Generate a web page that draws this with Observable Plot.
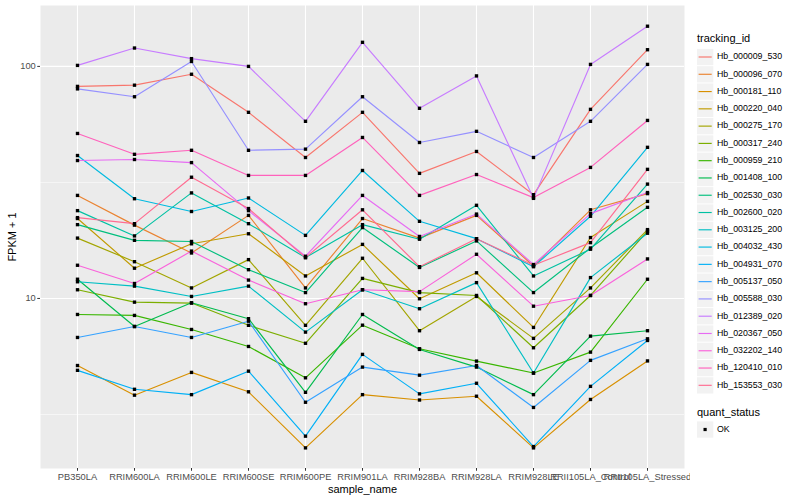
<!DOCTYPE html>
<html><head><meta charset="utf-8">
<script src="https://cdn.jsdelivr.net/npm/d3@7"></script>
<script src="https://cdn.jsdelivr.net/npm/@observablehq/plot@0.6"></script>
<style>
body{margin:0;background:#fff;font-family:"Liberation Sans",Arial,Helvetica,sans-serif;}
#wrap{position:relative;width:800px;height:500px;overflow:hidden;}
#chart{position:absolute;left:0;top:0;}
#legend{position:absolute;left:0;top:0;pointer-events:none;}
</style></head><body>
<div id="wrap"><div id="chart"></div><svg id="legend" width="800" height="500"></svg></div>
<script>
const samples = ["PB350LA","RRIM600LA","RRIM600LE","RRIM600SE","RRIM600PE","RRIM901LA","RRIM928BA","RRIM928LA","RRIM928LE","RRII105LA_Control","RRII105LA_Stressed"];
const ids = ["Hb_000009_530","Hb_000096_070","Hb_000181_110","Hb_000220_040","Hb_000275_170","Hb_000317_240","Hb_000959_210","Hb_001408_100","Hb_002530_030","Hb_002600_020","Hb_003125_200","Hb_004032_430","Hb_004931_070","Hb_005137_050","Hb_005588_030","Hb_012389_020","Hb_020367_050","Hb_032202_140","Hb_120410_010","Hb_153553_030"];
const palette = ["#F8766D","#EA8331","#D89000","#C09B00","#A3A500","#7CAE00","#39B600","#00BB4E","#00BF7D","#00C1A3","#00BFC4","#00BAE0","#00B0F6","#35A2FF","#9590FF","#C77CFF","#E76BF3","#FA62DB","#FF62BC","#FF6C91"];
const quantStatus = ["OK"];

const hb_000009_530 = [82, 83, 92.5, 63.4, 40.5, 63.4, 34.6, 43, 28, 65.3, 118];
const hb_000096_070 = [27.8, 20.7, 15.7, 22.8, 11.1, 22.1, 18.2, 22.8, 13.8, 24.1, 28.3];
const hb_000181_110 = [5.14, 3.83, 4.80, 3.96, 2.27, 3.85, 3.65, 3.79, 2.27, 3.67, 5.38];
const hb_000220_040 = [22.1, 13.5, 17.2, 19.0, 12.5, 17.1, 9.97, 12.9, 7.5, 18.3, 26.2];
const hb_000275_170 = [18.2, 14.4, 11.1, 14.7, 7.66, 14.9, 7.26, 10.2, 6.73, 11.1, 19.8];
const hb_000317_240 = [10.9, 9.64, 9.55, 7.66, 6.41, 12.2, 10.6, 10.3, 6.13, 10.3, 19.5];
const hb_000959_210 = [8.53, 8.45, 7.35, 6.21, 4.55, 7.67, 6.07, 5.37, 4.77, 5.87, 12.1];
const hb_001408_100 = [12.1, 7.57, 9.58, 8.18, 3.94, 8.53, 6.03, 5.06, 3.85, 6.88, 7.26];
const hb_002530_030 = [20.8, 17.8, 17.6, 13.3, 10.6, 20.2, 13.6, 17.7, 10.6, 16.5, 24.7];
const hb_002600_020 = [23.9, 18.6, 28.5, 21.0, 15.0, 20.8, 18.0, 25.2, 12.5, 16.3, 31.1];
const hb_003125_200 = [11.8, 11.3, 10.2, 11.3, 7.16, 10.9, 9.03, 11.7, 4.77, 12.3, 19.1];
const hb_004032_430 = [41.3, 26.9, 23.7, 27.1, 18.7, 35.6, 21.5, 18.1, 13.7, 22.6, 44.8];
const hb_004931_070 = [4.90, 4.06, 3.85, 4.86, 2.55, 5.74, 3.88, 4.31, 2.30, 4.18, 6.59];
const hb_005137_050 = [6.79, 7.57, 6.79, 7.98, 3.57, 5.06, 4.67, 5.14, 3.39, 5.41, 6.70];
const hb_005588_030 = [80, 74, 105, 43.5, 44, 74, 47, 52.5, 40.5, 58, 102];
const hb_012389_020 = [101, 120, 108, 100, 58, 127, 66, 91, 27, 102, 149];
const hb_020367_050 = [39.3, 39.7, 38.5, 23.9, 15.2, 27.8, 18.5, 23.1, 14.0, 23.2, 28.6];
const hb_032202_140 = [13.9, 11.6, 16.0, 12.0, 9.49, 10.9, 10.7, 15.5, 9.26, 10.3, 14.8];
const hb_120410_010 = [51.4, 41.8, 43.5, 33.9, 33.9, 49.4, 27.8, 34.2, 27.2, 36.7, 58.5];
const hb_153553_030 = [22.3, 21.0, 33.3, 24.4, 15.0, 24.1, 13.7, 18.1, 13.9, 17.4, 36.0];

const seriesValues = [hb_000009_530, hb_000096_070, hb_000181_110, hb_000220_040, hb_000275_170, hb_000317_240, hb_000959_210, hb_001408_100, hb_002530_030, hb_002600_020, hb_003125_200, hb_004032_430, hb_004931_070, hb_005137_050, hb_005588_030, hb_012389_020, hb_020367_050, hb_032202_140, hb_120410_010, hb_153553_030];

const data = [];
ids.forEach((id, i) => seriesValues[i].forEach((v, j) => data.push({id, sample: samples[j], fpkm: v, status: "OK"})));

const font = "Liberation Sans, Arial, Helvetica, sans-serif";
const chart = Plot.plot({
  width: 690, height: 500,
  marginLeft: 40, marginRight: 6, marginTop: 5, marginBottom: 32,
  style: {fontFamily: font, background: "white", color: "#4D4D4D"},
  x: {type: "point", domain: samples, padding: 0.6, label: null},
  y: {type: "log", domain: [1.85, 183], label: null},
  color: {domain: ids, range: palette},
  marks: [
    Plot.frame({fill: "#EBEBEB", stroke: "none"}),
    Plot.ruleY([Math.sqrt(10), Math.sqrt(1000)], {stroke: "white", strokeWidth: 0.55}),
    Plot.ruleY([10, 100], {stroke: "white", strokeWidth: 1.1}),
    Plot.ruleX(samples, {stroke: "white", strokeWidth: 1.1}),
    Plot.line(data, {x: "sample", y: "fpkm", z: "id", stroke: "id", strokeWidth: 1.15}),
    Plot.dot(data, {x: "sample", y: "fpkm", r: 1.9, symbol: "square", fill: "black", stroke: "none"}),
    Plot.axisY({ticks: [10, 100], tickFormat: d => String(d), tickSize: 2.75, tickPadding: 2, fontSize: 9.3, label: null, stroke: "#333333"}),
    Plot.axisX({tickSize: 2.75, tickPadding: 2, fontSize: 9.3, label: null, stroke: "#333333"}),
    Plot.text(["FPKM + 1"], {text: d => d, frameAnchor: "left", dx: -28, rotate: -90, textAnchor: "middle", lineAnchor: "middle", fontSize: 11, fill: "black"}),
    Plot.text(["sample_name"], {text: d => d, frameAnchor: "bottom", dy: 21, textAnchor: "middle", lineAnchor: "middle", fontSize: 11, fill: "black"})
  ]
});
document.getElementById("chart").appendChild(chart);

// legend
const lg = d3.select("#legend").style("font-family", font);
lg.append("text").attr("x", 697).attr("y", 39).attr("dominant-baseline", "middle").attr("font-size", 11).attr("fill", "black").text("tracking_id");
const step = 17.28;
ids.forEach((id, i) => {
  const cy = 57 + i * step;
  lg.append("rect").attr("x", 697).attr("y", cy - 8.1).attr("width", 16.3).attr("height", 16.3).attr("fill", "#F2F2F2");
  lg.append("line").attr("x1", 698.6).attr("x2", 711.7).attr("y1", cy).attr("y2", cy).attr("stroke", palette[i]).attr("stroke-width", 1.15);
  lg.append("text").attr("x", 717).attr("y", cy).attr("dominant-baseline", "middle").attr("font-size", 8.8).attr("fill", "black").text(id);
});
lg.append("text").attr("x", 697).attr("y", 413).attr("dominant-baseline", "middle").attr("font-size", 11).attr("fill", "black").text("quant_status");
quantStatus.forEach((s, i) => {
  const cy = 429.5 + i * step;
  lg.append("rect").attr("x", 697).attr("y", cy - 8.1).attr("width", 16.3).attr("height", 16.3).attr("fill", "#F2F2F2");
  lg.append("rect").attr("x", 703.5).attr("y", cy - 1.6).attr("width", 3.2).attr("height", 3.2).attr("fill", "black");
  lg.append("text").attr("x", 717).attr("y", cy).attr("dominant-baseline", "middle").attr("font-size", 8.8).attr("fill", "black").text(s);
});
</script></body></html>
